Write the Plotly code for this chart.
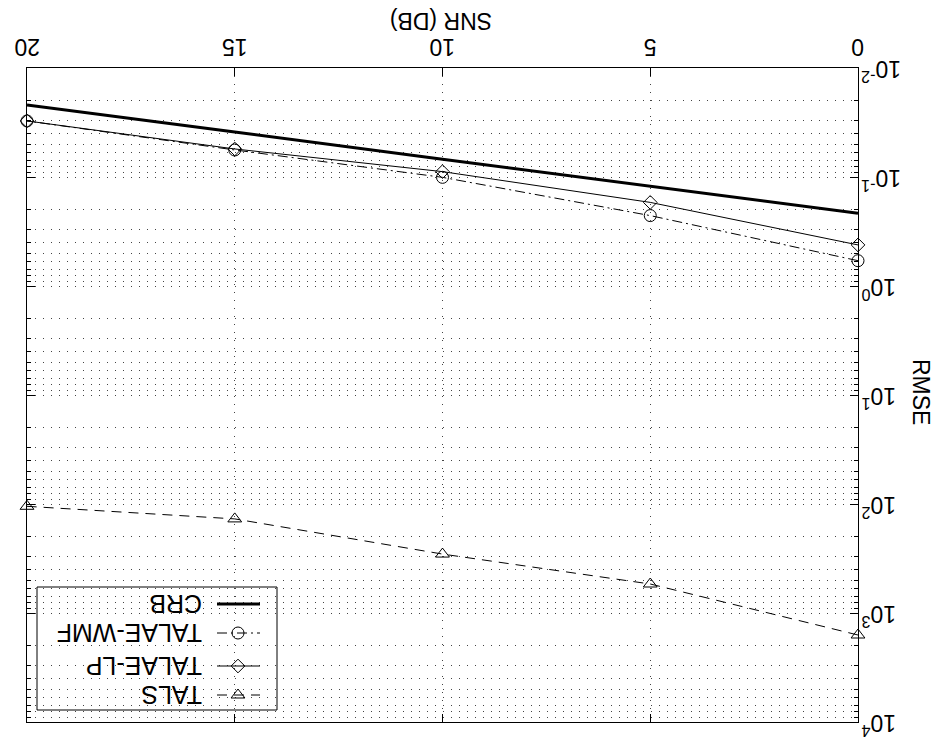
import math
import plotly.graph_objects as go

# ---------------- data ----------------
snr = [0, 5, 10, 15, 20]
crb = [0.215, 0.122, 0.0686, 0.0386, 0.0218]
talae_wmf = [0.586, 0.226, 0.1007, 0.0565, 0.0306]
talae_lp = [0.42, 0.171, 0.0893, 0.0553, 0.0306]
tals = [1592, 542, 288, 137, 105]

series_names = ["CRB", "TALAE-WMF", "TALAE-LP", "TALS"]
x_ticks = [0, 5, 10, 15, 20]
x_tick_labels = ["0", "5", "10", "15", "20"]
y_ticks = [1e-2, 1e-1, 1e0, 1e1, 1e2, 1e3, 1e4]
y_tick_labels = ["10<sup>-2</sup>", "10<sup>-1</sup>", "10<sup>0</sup>", "10<sup>1</sup>",
                 "10<sup>2</sup>", "10<sup>3</sup>", "10<sup>4</sup>"]
y_minor = [m * 10.0 ** k for k in range(-2, 4) for m in range(2, 10)]
x_title = "SNR (DB)"
y_title = "RMSE"

FONT = "Liberation Sans, Arial, Helvetica, sans-serif"
OFF = 8                      # default page margin of the html body
W, H = 945 - OFF, 748 - OFF  # figure size so that the page fits the window
L, R, T, B = 27, 858, 68, 722  # wanted plot area in page pixels

styles = {
    "CRB": dict(line=dict(color="black", width=3), mode="lines", marker=None),
    "TALAE-WMF": dict(line=dict(color="black", width=1, dash="10px,4px,2px,4px"),
                      mode="lines+markers",
                      marker=dict(symbol="circle-open", size=12, color="black", line=dict(width=1))),
    "TALAE-LP": dict(line=dict(color="black", width=1), mode="lines+markers",
                     marker=dict(symbol="diamond-open", size=10.5, color="black", line=dict(width=1))),
    "TALS": dict(line=dict(color="black", width=1, dash="10px,7px"), mode="lines+markers",
                 marker=dict(symbol="triangle-up-open", size=12, color="black", line=dict(width=1))),
}
values = {"CRB": crb, "TALAE-WMF": talae_wmf, "TALAE-LP": talae_lp, "TALS": tals}

fig = go.Figure()
for name in series_names:
    st = styles[name]
    kw = dict(x=snr, y=values[name], name=name, mode=st["mode"], line=st["line"],
              showlegend=False, cliponaxis=False)
    if st["marker"]:
        kw["marker"] = st["marker"]
    fig.add_trace(go.Scatter(**kw))

# ---------------- hand-built legend (rotated like the picture) ----------------
leg_box = dict(x0=37, x1=277, y0=587, y1=710)
leg_rows = [604, 633, 666, 695]
leg_line_x = [217, 260]
leg_marker_x = 238
leg_text_x = 203
for name, yy in zip(series_names, leg_rows):
    st = styles[name]
    fig.add_trace(go.Scatter(x=leg_line_x, y=[yy, yy], mode="lines", line=st["line"],
                             xaxis="x2", yaxis="y2", showlegend=False, hoverinfo="skip"))
    if st["marker"]:
        fig.add_trace(go.Scatter(x=[leg_marker_x], y=[yy], mode="markers", marker=st["marker"],
                                 xaxis="x2", yaxis="y2", showlegend=False, hoverinfo="skip"))
    fig.add_annotation(x=leg_text_x, y=yy, xref="x2", yref="y2", text=name, showarrow=False,
                       textangle=180, xanchor="right", yanchor="middle", borderpad=0,
                       font=dict(family=FONT, size=25, color="black"))
fig.add_shape(type="rect", xref="x2", yref="y2", line=dict(color="black", width=1),
              fillcolor="rgba(0,0,0,0)", layer="above", **leg_box)


def px_to_paper(px, py):
    return (px - L) / (R - L), (B - py) / (B - T)


xt, yt = px_to_paper(441, 21)
fig.add_annotation(x=xt, y=yt, xref="paper", yref="paper", text=x_title, showarrow=False,
                   textangle=180, xanchor="center", yanchor="middle", borderpad=0,
                   font=dict(family=FONT, size=23, color="black"))
xr, yr = px_to_paper(921, 392)
fig.add_annotation(x=xr, y=yr, xref="paper", yref="paper", text=y_title, showarrow=False,
                   textangle=90, xanchor="center", yanchor="middle", borderpad=0,
                   font=dict(family=FONT, size=23, color="black"))

# x tick labels, upside down, placed on the axis scale
_, yx = px_to_paper(0, 47)
for v, lab in zip(x_ticks, x_tick_labels):
    fig.add_annotation(x=v, y=yx, xref="x", yref="paper", text=lab, showarrow=False,
                       textangle=180, xanchor="center", yanchor="middle", borderpad=0,
                       font=dict(family=FONT, size=23, color="black"))

# y tick labels, upside down, placed on the axis scale
xl, _ = px_to_paper(860, 0)
for v, lab in zip(y_ticks, y_tick_labels):
    fig.add_annotation(x=xl, y=math.log10(v), xref="paper", yref="y", text=lab,
                       showarrow=False, textangle=180, xanchor="left", yanchor="middle",
                       borderpad=0, yshift=-3,
                       font=dict(family=FONT, size=23, color="black"))

grid_dash = "1px,7px"
fig.update_layout(
    width=W, height=H,
    margin=dict(l=L - OFF, r=W - (R - OFF), t=T - OFF, b=H - (B - OFF), pad=0,
                autoexpand=False),
    paper_bgcolor="white", plot_bgcolor="white",
    font=dict(family=FONT, size=20, color="black"),
    showlegend=False,
    xaxis=dict(
        range=[20, 0], side="top", tickvals=x_ticks, showticklabels=False,
        ticks="inside", ticklen=8, tickcolor="black", showline=True, linecolor="black",
        linewidth=1, mirror="ticks", showgrid=True, gridcolor="#444", griddash=grid_dash,
        gridwidth=1, zeroline=False, automargin=False,
    ),
    yaxis=dict(
        type="log", range=[4, -2], side="right", tickvals=y_ticks, showticklabels=False,
        ticks="inside", ticklen=8, tickcolor="black", showline=True,
        linecolor="black", linewidth=1, mirror="ticks", showgrid=True, gridcolor="#444",
        griddash=grid_dash, gridwidth=1, zeroline=False, automargin=False,
        minor=dict(tickvals=y_minor, ticks="inside", ticklen=4, tickcolor="black",
                   showgrid=True, gridcolor="#444", griddash=grid_dash, gridwidth=1),
    ),
    xaxis2=dict(overlaying="x", range=[L, R], visible=False, anchor="y2", fixedrange=True),
    yaxis2=dict(overlaying="y", range=[B, T], visible=False, anchor="x2", fixedrange=True),
)

fig.write_html("out.html")
